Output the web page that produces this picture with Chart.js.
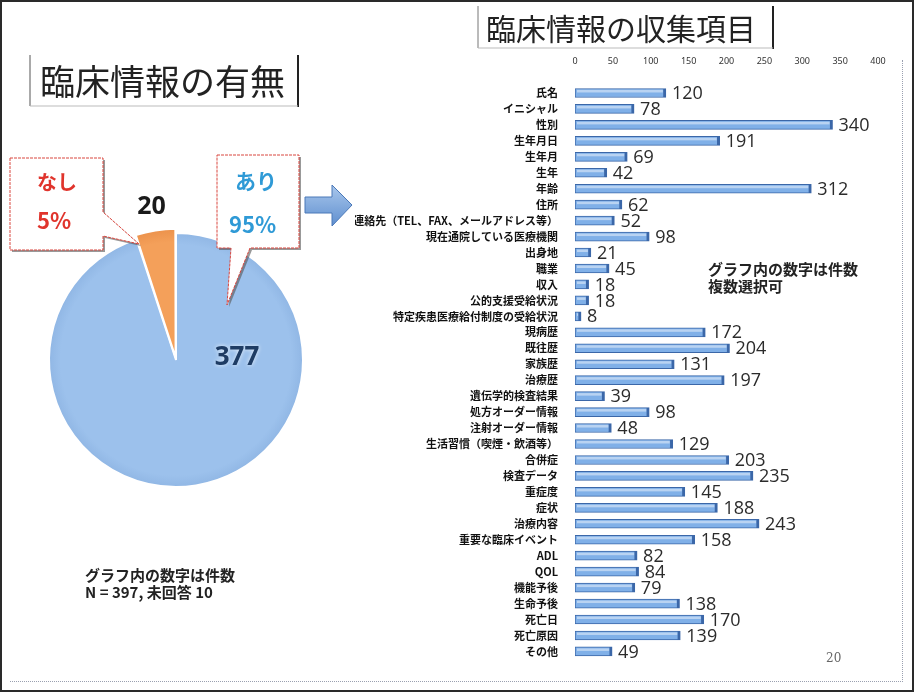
<!DOCTYPE html>
<html lang="ja">
<head>
<meta charset="utf-8">
<script src="https://cdn.jsdelivr.net/npm/chart.js@4.4.1/dist/chart.umd.min.js"></script>
<style>
  html, body { margin: 0; padding: 0; background: #fff; }
  body { width: 914px; height: 692px; position: relative; overflow: hidden;
         font-family: "Noto Sans CJK JP", "Noto Sans", sans-serif; }
  .frame { position: absolute; left: 0; top: 0; width: 910px; height: 688px; border: 2px solid #2a2a2a; }
  .inner { position: absolute; left: 10px; top: 60px; width: 892px; height: 621px;
           border-right: 1px dotted #9aa0b0; border-bottom: 1px dotted #9aa0b0; }
  .abs { position: absolute; white-space: nowrap; }
  #pieBox { position: absolute; left: 3px; top: 187px; width: 346px; height: 346px; }
  #barBox { position: absolute; left: 355px; top: 55px; width: 545px; height: 620px; }
  svg { position: absolute; left: 0; top: 0; }
  .note { font-weight: bold; font-size: 15px; line-height: 17px; color: #222; }
</style>
</head>
<body>
<div class="frame"></div>
<div class="inner"></div>

<div id="pieBox"><canvas id="pieChart"></canvas></div>
<div id="barBox"><canvas id="barChart"></canvas></div>

<svg width="914" height="692">
  <!-- title boxes -->
  <line x1="30" y1="55" x2="30" y2="106" stroke="#555" stroke-width="1"/>
  <line x1="298" y1="55" x2="298" y2="107" stroke="#222" stroke-width="2"/>
  <line x1="30" y1="106" x2="298" y2="106" stroke="#bbb" stroke-width="1"/>
  <line x1="478" y1="6" x2="478" y2="48" stroke="#777" stroke-width="1"/>
  <line x1="773" y1="6" x2="773" y2="49" stroke="#222" stroke-width="2"/>
  <line x1="478" y1="48" x2="773" y2="48" stroke="#bbb" stroke-width="1"/>
  <!-- callouts -->
  <polygon points="12,160 105,160 105,214 141,246 105,238 105,252 12,252" fill="#555" opacity="0.6"/>
  <polygon points="10,158 103,158 103,212 139,244 103,236 103,250 10,250" fill="#fff" stroke="#d9463e" stroke-width="1" stroke-dasharray="3,1"/>
  <polygon points="219,157 301,157 301,250 252,250 229,307 233,250 219,250" fill="#555" opacity="0.6"/>
  <polygon points="217,155 299,155 299,248 250,248 227,305 231,248 217,248" fill="#fff" stroke="#d9463e" stroke-width="1" stroke-dasharray="3,1"/>
  <!-- arrow -->
  <defs>
    <linearGradient id="arrowGrad" x1="0" y1="0" x2="0" y2="1">
      <stop offset="0" stop-color="#a9c7ec"/>
      <stop offset="1" stop-color="#5f8fcf"/>
    </linearGradient>
  </defs>
  <polygon points="305,197 332,197 332,185 352,205 332,226 332,213 305,213" fill="url(#arrowGrad)" stroke="#4a78b8" stroke-width="1"/>
</svg>

<div class="abs" style="left:40px; top:58px; font-size:35px; line-height:44px; color:#222;">臨床情報の有無</div>
<div class="abs" style="left:486px; top:8px; font-size:30px; line-height:38px; color:#222;">臨床情報の収集項目</div>

<div class="abs" style="left:37px; top:169px; font-size:20px; line-height:26px; font-weight:bold; color:#e0342c;">なし</div>
<div class="abs" style="left:37px; top:205px; font-size:22px; line-height:28px; font-weight:bold; color:#e0342c;">5%</div>
<div class="abs" style="left:235px; top:166px; font-size:21px; line-height:28px; font-weight:bold; color:#2f9ad6;">あり</div>
<div class="abs" style="left:229px; top:209px; font-size:22px; line-height:28px; font-weight:bold; color:#2f9ad6;">95%</div>

<div class="abs note" style="left:85px; top:566px;">グラフ内の数字は件数<br>N = 397, 未回答 10</div>
<div class="abs note" style="left:708px; top:260px;">グラフ内の数字は件数<br>複数選択可</div>
<div class="abs" style="left:826px; top:651px; font-family:'DejaVu Serif', serif; font-size:12px; color:#666;">20</div>

<script>
// 臨床情報の有無
const pieLabels = ["あり", "なし"];
const pieCounts = [377, 20];
const pieInner = ["#9cc1ec", "#f4a05a"];
const pieOuter = ["#7fa7d9", "#e2813a"];

// 臨床情報の収集項目
const categories = [
  "氏名", "イニシャル", "性別", "生年月日", "生年月", "生年", "年齢", "住所",
  "連絡先（TEL、FAX、メールアドレス等）", "現在通院している医療機関", "出身地", "職業", "収入",
  "公的支援受給状況", "特定疾患医療給付制度の受給状況", "現病歴", "既往歴", "家族歴", "治療歴",
  "遺伝学的検査結果", "処方オーダー情報", "注射オーダー情報", "生活習慣（喫煙・飲酒等）",
  "合併症", "検査データ", "重症度", "症状", "治療内容", "重要な臨床イベント", "ADL", "QOL",
  "機能予後", "生命予後", "死亡日", "死亡原因", "その他"
];
const counts = [
  120, 78, 340, 191, 69, 42, 312, 62, 52, 98, 21, 45, 18, 18, 8, 172, 204, 131, 197,
  39, 98, 48, 129, 203, 235, 145, 188, 243, 158, 82, 84, 79, 138, 170, 139, 49
];
const xTickValues = [0, 50, 100, 150, 200, 250, 300, 350, 400];

// pie numbers drawn next to the slices
const pieNumbers = {
  id: "pieNumbers",
  afterDatasetsDraw(chart) {
    const ctx = chart.ctx;
    const arcs = chart.getDatasetMeta(0).data;
    const big = arcs[0], small = arcs[1];
    ctx.save();
    ctx.textAlign = "center";
    ctx.textBaseline = "middle";
    ctx.font = "bold 26px 'Noto Sans', sans-serif";
    ctx.shadowColor = "rgba(255,255,255,0.8)";
    ctx.shadowBlur = 4;
    ctx.fillStyle = "#1e3c64";
    ctx.fillText(String(pieCounts[0]), big.x + 61, big.y - 2);
    // small slice: above its outer edge
    const mid = (small.startAngle + small.endAngle) / 2;
    const r = small.outerRadius + 28;
    ctx.shadowBlur = 0;
    ctx.fillStyle = "#1a1a1a";
    ctx.font = "bold 25px 'Noto Sans', sans-serif";
    ctx.fillText(String(pieCounts[1]), small.x + Math.cos(mid) * r, small.y + Math.sin(mid) * r);
    ctx.restore();
  }
};

function pieFill(c) {
  const a = c.chart.chartArea;
  if (!a) return pieInner[c.dataIndex];
  const cx = (a.left + a.right) / 2, cy = (a.top + a.bottom) / 2;
  const r = Math.min(a.width, a.height) / 2;
  const g = c.chart.ctx.createRadialGradient(cx, cy, r * 0.2, cx, cy, r + 12);
  g.addColorStop(0, pieInner[c.dataIndex]);
  g.addColorStop(0.75, pieInner[c.dataIndex]);
  g.addColorStop(1, pieOuter[c.dataIndex]);
  return g;
}

new Chart(document.getElementById("pieChart"), {
  type: "pie",
  data: {
    labels: pieLabels,
    datasets: [{
      data: pieCounts,
      backgroundColor: pieFill,
      borderColor: "#ffffff",
      borderWidth: 2,
      offset: [0, 10]
    }]
  },
  options: {
    responsive: true,
    maintainAspectRatio: false,
    animation: false,
    layout: { padding: 40 },
    plugins: { legend: { display: false }, tooltip: { enabled: false } }
  },
  plugins: [pieNumbers]
});

// highlight stripe and numbers at the end of each bar
const valueLabels = {
  id: "valueLabels",
  afterDatasetsDraw(chart) {
    const ctx = chart.ctx;
    const meta = chart.getDatasetMeta(0);
    ctx.save();
    meta.data.forEach(bar => {
      const w = bar.x - bar.base - 5;
      if (w > 0) {
        ctx.fillStyle = "rgba(255,255,255,0.45)";
        ctx.fillRect(bar.base + 2, bar.y - bar.height / 2 + 1.5, w, 2.5);
      }
    });
    ctx.font = "18px 'Open Sans', sans-serif";
    ctx.fillStyle = "#2b2b2b";
    ctx.textBaseline = "middle";
    meta.data.forEach((bar, i) => {
      ctx.fillText(String(counts[i]), bar.x + 6, bar.y + 1);
    });
    ctx.restore();
  }
};

new Chart(document.getElementById("barChart"), {
  type: "bar",
  data: {
    labels: categories,
    datasets: [{
      data: counts,
      backgroundColor: "#80b0e8",
      borderColor: "#3b67a8",
      borderWidth: { top: 1, bottom: 1, left: 1, right: 3 },
      borderSkipped: false,
      barThickness: 9
    }]
  },
  options: {
    indexAxis: "y",
    responsive: true,
    maintainAspectRatio: false,
    animation: false,
    layout: { padding: { right: 22, bottom: 8 } },
    plugins: { legend: { display: false }, tooltip: { enabled: false } },
    scales: {
      x: {
        position: "top",
        min: 0,
        max: 400,
        afterBuildTicks: s => { s.ticks = xTickValues.map(v => ({ value: v })); },
        afterFit: s => { s.height = 30; },
        grid: { display: false },
        border: { display: false },
        ticks: { padding: 10, color: "#333", font: { size: 9, family: "'Noto Sans', sans-serif" } }
      },
      y: {
        afterFit: s => { s.width = 220; },
        grid: { display: false },
        border: { display: false },
        ticks: {
          autoSkip: false,
          padding: 9,
          color: "#111",
          font: { size: 11, weight: "bold", family: "'Noto Sans CJK JP', sans-serif" }
        }
      }
    }
  },
  plugins: [valueLabels]
});
</script>
</body>
</html>
